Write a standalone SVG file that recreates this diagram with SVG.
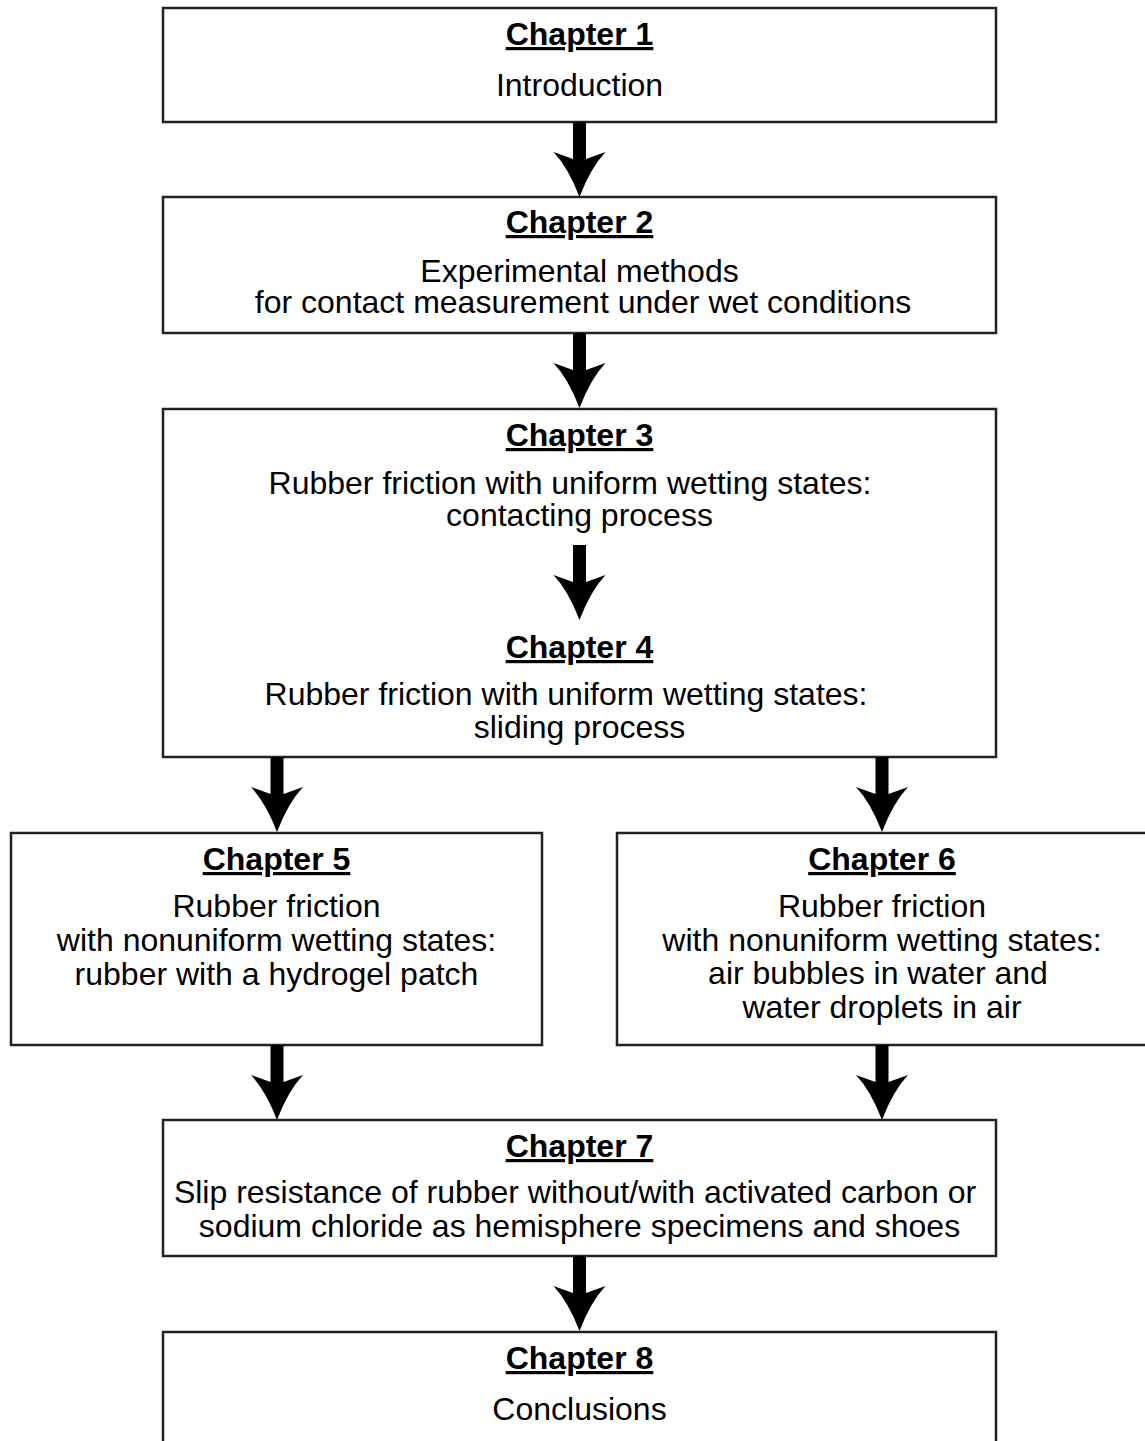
<svg xmlns="http://www.w3.org/2000/svg" xmlns:xlink="http://www.w3.org/1999/xlink" width="1145" height="1441" viewBox="0 0 1145 1441">
<style>
.box{fill:#fff;stroke:#222;stroke-width:2.5}
.t{font-family:"Liberation Sans",Arial,sans-serif;font-size:32px;fill:#000;text-anchor:middle}
.h{font-weight:bold;text-decoration:underline}
</style>
<defs>
<path id="arr" d="M-6.5,0 H6.5 V37 L26,30 Q11,46 0,75 Q-11,46 -26,30 L-6.5,37 Z" fill="#000"/>
</defs>
<rect width="1145" height="1441" fill="#fff"/>
<g id="n1"><rect class="box" x="163" y="8" width="833" height="114"/>
<text class="t h" x="579.5" y="45">Chapter 1</text>
<text class="t" x="579.5" y="96">Introduction</text></g>
<g id="n2"><rect class="box" x="163" y="197" width="833" height="136"/>
<text class="t h" x="579.5" y="233">Chapter 2</text>
<text class="t" x="579.5" y="282">Experimental methods</text>
<text class="t" x="583" y="313">for contact measurement under wet conditions</text></g>
<g id="n3"><rect class="box" x="163" y="409" width="833" height="348"/>
<text class="t h" x="579.5" y="446">Chapter 3</text>
<text class="t" x="570" y="494">Rubber friction with uniform wetting states:</text>
<text class="t" x="579.5" y="526">contacting process</text>
<text class="t h" x="579.5" y="658">Chapter 4</text>
<text class="t" x="566" y="705">Rubber friction with uniform wetting states:</text>
<text class="t" x="579.5" y="738">sliding process</text></g>
<g id="n5"><rect class="box" x="11" y="833" width="531" height="212"/>
<text class="t h" x="276.5" y="870">Chapter 5</text>
<text class="t" x="276.5" y="917">Rubber friction</text>
<text class="t" x="276.5" y="951">with nonuniform wetting states:</text>
<text class="t" x="276.5" y="985">rubber with a hydrogel patch</text></g>
<g id="n6"><rect class="box" x="617" y="833" width="540" height="212"/>
<text class="t h" x="882" y="870">Chapter 6</text>
<text class="t" x="882" y="917">Rubber friction</text>
<text class="t" x="882" y="951">with nonuniform wetting states:</text>
<text class="t" x="878" y="984">air bubbles in water and</text>
<text class="t" x="882" y="1018">water droplets in air</text></g>
<g id="n7"><rect class="box" x="163" y="1120" width="833" height="136"/>
<text class="t h" x="579.5" y="1157">Chapter 7</text>
<text class="t" x="575" y="1203">Slip resistance of rubber without/with activated carbon or</text>
<text class="t" x="579.5" y="1237">sodium chloride as hemisphere specimens and shoes</text></g>
<g id="n8"><rect class="box" x="163" y="1332" width="833" height="130"/>
<text class="t h" x="579.5" y="1369">Chapter 8</text>
<text class="t" x="579.5" y="1420">Conclusions</text></g>
<g id="connectors">
<use xlink:href="#arr" x="579.5" y="122"/>
<use xlink:href="#arr" x="579.5" y="333"/>
<use xlink:href="#arr" x="579.5" y="545"/>
<use xlink:href="#arr" x="277" y="757"/>
<use xlink:href="#arr" x="882" y="757"/>
<use xlink:href="#arr" x="277" y="1045"/>
<use xlink:href="#arr" x="882" y="1045"/>
<use xlink:href="#arr" x="579.5" y="1256"/>
</g>
</svg>
